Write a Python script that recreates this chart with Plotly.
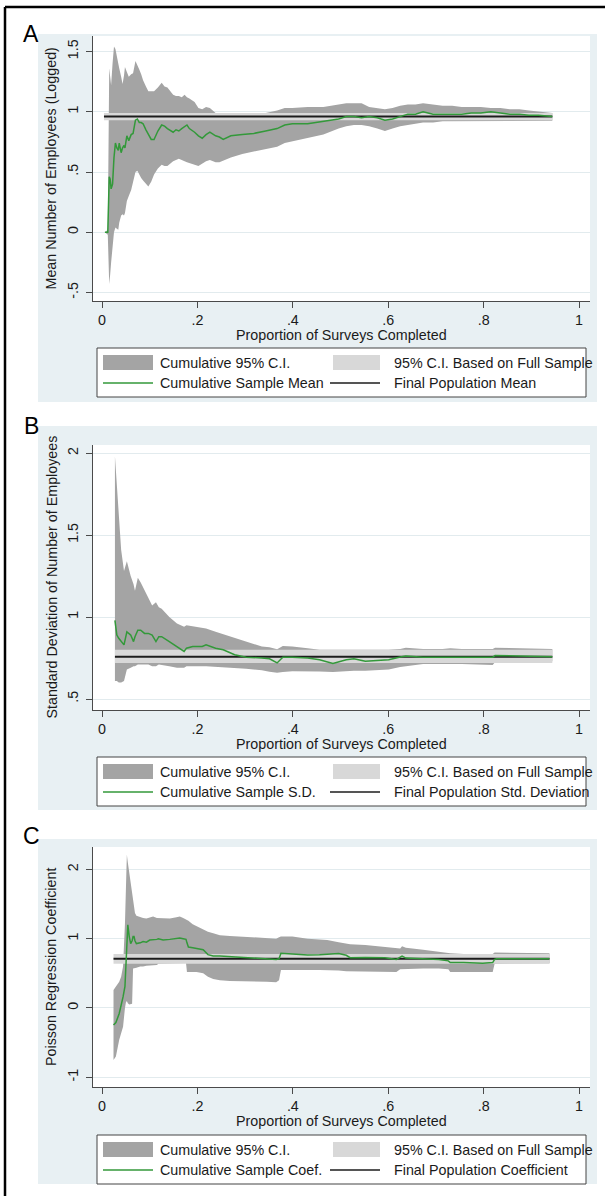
import plotly.graph_objects as go

W, H = 605, 1196

# ------------------------------------------------------------------ data
x_ticks = [0, 0.2, 0.4, 0.6, 0.8, 1]
x_tick_labels = ["0", ".2", ".4", ".6", ".8", "1"]
x_title = "Proportion of Surveys Completed"

# Panel A: mean number of employees (logged)
a_prop = [0.006, 0.012, 0.015, 0.017, 0.019, 0.022, 0.025, 0.028, 0.031, 0.034,
          0.036, 0.040, 0.043, 0.046, 0.048, 0.052, 0.056, 0.061, 0.065, 0.070,
          0.074, 0.078, 0.082, 0.086, 0.092, 0.097, 0.103, 0.109, 0.117, 0.125,
          0.131, 0.137, 0.149, 0.155, 0.161, 0.167, 0.173, 0.178, 0.183, 0.194,
          0.202, 0.210, 0.218, 0.226, 0.238, 0.246, 0.254, 0.270, 0.294, 0.318,
          0.343, 0.367, 0.383, 0.399, 0.431, 0.464, 0.496, 0.512, 0.528, 0.544,
          0.560, 0.577, 0.593, 0.609, 0.625, 0.641, 0.657, 0.673, 0.694, 0.714,
          0.734, 0.754, 0.774, 0.794, 0.815, 0.835, 0.855, 0.875, 0.895, 0.915,
          0.944]
a_upper = [0.0, 0.02, 1.36, 1.30, 1.22, 1.40, 1.54, 1.52, 1.47, 1.40,
           1.36, 1.29, 1.23, 1.30, 1.37, 1.33, 1.29, 1.31, 1.32, 1.42,
           1.39, 1.35, 1.31, 1.26, 1.21, 1.17, 1.17, 1.17, 1.20, 1.24,
           1.21, 1.20, 1.14, 1.13, 1.13, 1.12, 1.14, 1.12, 1.11, 1.08,
           1.03, 1.02, 1.04, 1.03, 0.99, 0.99, 0.99, 0.99, 0.99, 0.99,
           0.99, 1.01, 1.03, 1.03, 1.04, 1.04, 1.06, 1.07, 1.07, 1.07,
           1.04, 1.03, 1.02, 1.03, 1.05, 1.06, 1.06, 1.07, 1.06, 1.05,
           1.05, 1.04, 1.04, 1.04, 1.03, 1.03, 1.02, 1.02, 1.01, 1.00,
           0.99]
a_lower = [0.0, -0.02, -0.43, -0.35, -0.25, -0.10, 0.00, 0.04, 0.03, 0.02,
           0.08, 0.14, 0.15, 0.14, 0.16, 0.26, 0.30, 0.35, 0.40, 0.50,
           0.51, 0.48, 0.45, 0.43, 0.40, 0.38, 0.42, 0.48, 0.53, 0.56,
           0.55, 0.55, 0.59, 0.60, 0.61, 0.60, 0.59, 0.58, 0.57, 0.56,
           0.55, 0.57, 0.59, 0.60, 0.58, 0.58, 0.59, 0.62, 0.65, 0.67,
           0.69, 0.71, 0.74, 0.75, 0.78, 0.81, 0.86, 0.88, 0.89, 0.89,
           0.88, 0.86, 0.84, 0.86, 0.88, 0.89, 0.90, 0.91, 0.91, 0.92,
           0.92, 0.925, 0.925, 0.925, 0.925, 0.925, 0.925, 0.925, 0.925, 0.925,
           0.925]
a_mean = [0.0, 0.0, 0.46, 0.44, 0.36, 0.40, 0.62, 0.74, 0.70, 0.68,
          0.74, 0.66, 0.70, 0.72, 0.70, 0.80, 0.76, 0.81, 0.82, 0.93,
          0.94, 0.91, 0.91, 0.90, 0.85, 0.81, 0.77, 0.77, 0.84, 0.89,
          0.88, 0.86, 0.83, 0.85, 0.84, 0.86, 0.88, 0.89, 0.86, 0.83,
          0.80, 0.78, 0.81, 0.83, 0.80, 0.79, 0.77, 0.80, 0.81, 0.82,
          0.84, 0.86, 0.89, 0.90, 0.90, 0.92, 0.94, 0.96, 0.96, 0.95,
          0.96, 0.95, 0.93, 0.94, 0.96, 0.98, 0.98, 1.00, 0.98, 0.98,
          0.98, 0.98, 0.99, 0.99, 1.00, 0.99, 0.98, 0.98, 0.97, 0.97,
          0.96]
a_pop = 0.96
a_full_ci = [0.93, 0.99]
a_span = [0.004, 0.944]
a_yticks = [-0.5, 0, 0.5, 1, 1.5]
a_ytick_labels = ["-.5", "0", ".5", "1", "1.5"]
a_ytitle = "Mean Number of Employees (Logged)"
a_legend = ["Cumulative 95% C.I.", "95% C.I. Based on Full Sample",
            "Cumulative Sample Mean", "Final Population Mean"]

# Panel B: standard deviation of number of employees
b_prop = [0.027, 0.031, 0.035, 0.040, 0.046, 0.052, 0.060, 0.066, 0.069, 0.075,
          0.081, 0.089, 0.097, 0.105, 0.113, 0.119, 0.125, 0.141, 0.157, 0.172,
          0.177, 0.190, 0.210, 0.218, 0.238, 0.254, 0.278, 0.302, 0.335, 0.351,
          0.367, 0.379, 0.399, 0.431, 0.456, 0.484, 0.512, 0.528, 0.552, 0.577,
          0.601, 0.625, 0.637, 0.673, 0.714, 0.730, 0.754, 0.819, 0.824, 0.875,
          0.915, 0.944]
b_upper = [1.98, 1.80, 1.60, 1.41, 1.28, 1.34, 1.25, 1.20, 1.16, 1.24,
           1.21, 1.16, 1.12, 1.07, 1.09, 1.06, 1.05, 1.00, 0.96, 0.94,
           0.95, 0.945, 0.935, 0.93, 0.91, 0.895, 0.87, 0.85, 0.82, 0.815,
           0.803, 0.823, 0.82, 0.81, 0.80, 0.80, 0.80, 0.80, 0.80, 0.80,
           0.80, 0.805, 0.812, 0.805, 0.805, 0.81, 0.805, 0.805, 0.812, 0.81,
           0.808, 0.805]
b_lower = [0.61, 0.61, 0.60, 0.60, 0.61, 0.68, 0.69, 0.70, 0.70, 0.71,
           0.71, 0.71, 0.71, 0.70, 0.70, 0.71, 0.71, 0.70, 0.69, 0.69,
           0.70, 0.70, 0.70, 0.70, 0.70, 0.695, 0.69, 0.685, 0.675, 0.667,
           0.66, 0.665, 0.67, 0.67, 0.668, 0.665, 0.67, 0.672, 0.673, 0.675,
           0.68, 0.695, 0.70, 0.713, 0.713, 0.713, 0.713, 0.707, 0.725, 0.728,
           0.73, 0.73]
b_sd = [0.98, 0.89, 0.87, 0.85, 0.83, 0.91, 0.89, 0.85, 0.88, 0.92,
        0.92, 0.90, 0.90, 0.89, 0.85, 0.88, 0.88, 0.85, 0.82, 0.79,
        0.81, 0.82, 0.82, 0.83, 0.81, 0.80, 0.77, 0.755, 0.75, 0.745,
        0.72, 0.755, 0.755, 0.75, 0.74, 0.717, 0.74, 0.745, 0.73, 0.734,
        0.74, 0.756, 0.762, 0.755, 0.755, 0.757, 0.758, 0.755, 0.765, 0.762,
        0.76, 0.758]
b_pop = 0.758
b_full_ci = [0.72, 0.80]
b_span = [0.027, 0.944]
b_yticks = [0.5, 1, 1.5, 2]
b_ytick_labels = [".5", "1", "1.5", "2"]
b_ytitle = "Standard Deviation of Number of Employees"
b_legend = ["Cumulative 95% C.I.", "95% C.I. Based on Full Sample",
            "Cumulative Sample S.D.", "Final Population Std. Deviation"]

# Panel C: Poisson regression coefficient
c_prop = [0.024, 0.029, 0.036, 0.040, 0.044, 0.048, 0.050, 0.052, 0.054, 0.057,
          0.060, 0.063, 0.065, 0.067, 0.069, 0.072, 0.080, 0.086, 0.093, 0.100,
          0.107, 0.115, 0.118, 0.128, 0.142, 0.156, 0.163, 0.170, 0.176, 0.178,
          0.181, 0.190, 0.198, 0.212, 0.222, 0.233, 0.247, 0.268, 0.290, 0.303,
          0.330, 0.345, 0.365, 0.371, 0.375, 0.399, 0.431, 0.456, 0.472, 0.496,
          0.512, 0.520, 0.552, 0.593, 0.617, 0.625, 0.629, 0.637, 0.673, 0.706,
          0.726, 0.730, 0.758, 0.798, 0.819, 0.823, 0.827, 0.875, 0.910, 0.938]
c_upper = [0.26, 0.31, 0.38, 0.45, 0.60, 1.22, 1.75, 2.21, 2.10, 1.95,
           1.80, 1.60, 1.52, 1.40, 1.37, 1.33, 1.31, 1.30, 1.29, 1.31,
           1.32, 1.30, 1.30, 1.30, 1.29, 1.31, 1.32, 1.30, 1.28, 1.27,
           1.26, 1.21, 1.18, 1.13, 1.10, 1.08, 1.05, 1.04, 1.03, 1.02,
           1.005, 1.00, 1.00, 1.02, 1.03, 1.03, 1.00, 0.99, 0.98, 0.95,
           0.93, 0.92, 0.91, 0.885, 0.86, 0.86, 0.89, 0.87, 0.84, 0.81,
           0.79, 0.79, 0.78, 0.78, 0.78, 0.80, 0.80, 0.80, 0.80, 0.79]
c_lower = [-0.75, -0.70, -0.46, -0.38, -0.27, 0.00, 0.08, 0.10, 0.07, 0.05,
           0.05, 0.06, 0.57, 0.57, 0.58, 0.58, 0.60, 0.60, 0.61, 0.62,
           0.62, 0.62, 0.64, 0.65, 0.65, 0.65, 0.65, 0.65, 0.65, 0.52,
           0.52, 0.52, 0.52, 0.50, 0.45, 0.42, 0.40, 0.39, 0.38, 0.38,
           0.38, 0.38, 0.37, 0.40, 0.55, 0.55, 0.55, 0.55, 0.55, 0.54,
           0.53, 0.52, 0.52, 0.52, 0.52, 0.56, 0.57, 0.57, 0.57, 0.57,
           0.56, 0.52, 0.52, 0.52, 0.52, 0.64, 0.645, 0.645, 0.645, 0.645]
c_coef = [-0.245, -0.21, -0.08, 0.02, 0.16, 0.31, 0.70, 1.00, 1.20, 1.03,
          0.93, 0.97, 1.03, 1.03, 0.97, 0.93, 0.94, 0.96, 0.95, 0.98,
          0.98, 0.99, 1.00, 0.98, 0.99, 1.00, 1.01, 1.00, 0.99, 0.94,
          0.88, 0.87, 0.86, 0.84, 0.77, 0.75, 0.75, 0.74, 0.73, 0.72,
          0.71, 0.71, 0.70, 0.71, 0.79, 0.78, 0.765, 0.77, 0.78, 0.785,
          0.76, 0.725, 0.73, 0.726, 0.70, 0.74, 0.75, 0.72, 0.715, 0.70,
          0.68, 0.655, 0.655, 0.645, 0.655, 0.70, 0.71, 0.71, 0.71, 0.71]
c_pop = 0.71
c_full_ci = [0.64, 0.78]
c_span = [0.024, 0.938]
c_yticks = [-1, 0, 1, 2]
c_ytick_labels = ["-1", "0", "1", "2"]
c_ytitle = "Poisson Regression Coefficient"
c_legend = ["Cumulative 95% C.I.", "95% C.I. Based on Full Sample",
            "Cumulative Sample Coef.", "Final Population Coefficient"]

# ------------------------------------------------------------------ style
FONT = "Liberation Sans, Arial, Helvetica, sans-serif"
TXT = "#1a1a1a"
BLUE = "#e8f0f3"
DARK = "#a4a4a4"
LIGHT = "#d8d8d8"
GREEN = "#33993a"
AXIS = "#4a4a4a"
GRID = "#e2ebee"
FS = 14.3


def px(x):
    return x / W


def py(y):
    return 1 - y / H


panels = [
    dict(letter="A", prop=a_prop, lo=a_lower, hi=a_upper, est=a_mean, pop=a_pop,
         full=a_full_ci, span=a_span, yt=a_yticks, ytl=a_ytick_labels,
         ytitle=a_ytitle, legend=a_legend,
         top=36, bot=301, yrange=[-0.570, 1.628], bg=(34, 402), leg=348, ly=34),
    dict(letter="B", prop=b_prop, lo=b_lower, hi=b_upper, est=b_sd, pop=b_pop,
         full=b_full_ci, span=b_span, yt=b_yticks, ytl=b_ytick_labels,
         ytitle=b_ytitle, legend=b_legend,
         top=445, bot=710, yrange=[0.433, 2.049], bg=(426, 810), leg=757, ly=426),
    dict(letter="C", prop=c_prop, lo=c_lower, hi=c_upper, est=c_coef, pop=c_pop,
         full=c_full_ci, span=c_span, yt=c_yticks, ytl=c_ytick_labels,
         ytitle=c_ytitle, legend=c_legend,
         top=847, bot=1087, yrange=[-1.140, 2.323], bg=(839, 1184), leg=1135, ly=836),
]

X_LEFT, X_RIGHT = 93, 590
X_RANGE = [-0.019, 1.023]

fig = go.Figure()
shapes = []
annotations = []
layout_axes = {}

for i, pnl in enumerate(panels):
    n = "" if i == 0 else str(i + 1)
    xref, yref = "x" + n, "y" + n
    assert len(pnl["prop"]) == len(pnl["lo"]) == len(pnl["hi"]) == len(pnl["est"])

    # cumulative CI area
    fig.add_trace(go.Scatter(
        x=list(pnl["prop"]) + list(pnl["prop"])[::-1],
        y=list(pnl["hi"]) + list(pnl["lo"])[::-1],
        fill="toself", fillcolor=DARK, mode="lines", line=dict(width=0),
        hoverinfo="skip", showlegend=False, xaxis=xref, yaxis=yref))
    # full-sample CI band
    s0, s1 = pnl["span"]
    lo, hi = pnl["full"]
    fig.add_trace(go.Scatter(
        x=[s0, s1, s1, s0], y=[lo, lo, hi, hi],
        fill="toself", fillcolor=LIGHT, mode="lines", line=dict(width=0),
        hoverinfo="skip", showlegend=False, xaxis=xref, yaxis=yref))
    # final population value
    fig.add_trace(go.Scatter(
        x=[s0, s1], y=[pnl["pop"], pnl["pop"]], mode="lines",
        line=dict(color="#1c1c1c", width=2), showlegend=False,
        xaxis=xref, yaxis=yref))
    # cumulative estimate
    fig.add_trace(go.Scatter(
        x=pnl["prop"], y=pnl["est"], mode="lines",
        line=dict(color=GREEN, width=1.5), showlegend=False,
        xaxis=xref, yaxis=yref))

    layout_axes["xaxis" + n] = dict(
        domain=[px(X_LEFT), px(X_RIGHT)], range=X_RANGE, anchor=yref,
        tickvals=x_ticks, ticktext=x_tick_labels, ticks="outside", ticklen=6,
        tickcolor=AXIS, tickwidth=1, showline=True, linecolor=AXIS, linewidth=1,
        showgrid=False, zeroline=False, ticklabelstandoff=0,
        tickfont=dict(family=FONT, size=FS, color=TXT))
    layout_axes["yaxis" + n] = dict(
        domain=[py(pnl["bot"]), py(pnl["top"])], range=pnl["yrange"], anchor=xref,
        tickvals=pnl["yt"], ticktext=pnl["ytl"], tickangle=-90, ticks="outside",
        ticklen=6, tickcolor=AXIS, tickwidth=1, showline=True, linecolor=AXIS,
        linewidth=1, showgrid=True, gridcolor=GRID, gridwidth=1, zeroline=False,
        ticklabelstandoff=2, tickfont=dict(family=FONT, size=FS, color=TXT))

    # graph region (light blue) and white plot region
    b0, b1 = pnl["bg"]
    shapes.append(dict(type="rect", xref="paper", yref="paper", layer="below",
                       x0=px(38), x1=px(597), y0=py(b1), y1=py(b0),
                       fillcolor=BLUE, line=dict(width=0)))
    shapes.append(dict(type="rect", xref="paper", yref="paper", layer="below",
                       x0=px(X_LEFT), x1=px(X_RIGHT), y0=py(pnl["bot"]), y1=py(pnl["top"]),
                       fillcolor="white", line=dict(width=0)))

    # legend box
    lt = pnl["leg"]
    shapes.append(dict(type="rect", xref="paper", yref="paper", layer="below",
                       x0=px(97), x1=px(586), y0=py(lt + 49), y1=py(lt),
                       fillcolor="white", line=dict(color="#444444", width=1)))
    shapes.append(dict(type="rect", xref="paper", yref="paper",
                       x0=px(103), x1=px(153), y0=py(lt + 22), y1=py(lt + 7),
                       fillcolor=DARK, line=dict(width=0)))
    shapes.append(dict(type="rect", xref="paper", yref="paper",
                       x0=px(333), x1=px(380), y0=py(lt + 22), y1=py(lt + 7),
                       fillcolor=LIGHT, line=dict(width=0)))
    shapes.append(dict(type="line", xref="paper", yref="paper",
                       x0=px(103), x1=px(153), y0=py(lt + 35), y1=py(lt + 35),
                       line=dict(color=GREEN, width=1.5)))
    shapes.append(dict(type="line", xref="paper", yref="paper",
                       x0=px(330), x1=px(380), y0=py(lt + 35), y1=py(lt + 35),
                       line=dict(color="#1c1c1c", width=1.5)))
    lab = pnl["legend"]
    for txt, xx, yy in [(lab[0], 158, lt + 15), (lab[1], 392, lt + 15),
                        (lab[2], 158, lt + 35), (lab[3], 392, lt + 35)]:
        annotations.append(dict(text=txt, xref="paper", yref="paper",
                                x=px(xx), y=py(yy), xanchor="left", yanchor="middle",
                                showarrow=False, font=dict(family=FONT, size=FS, color=TXT)))

    # axis titles and panel letter
    annotations.append(dict(text=pnl["ytitle"], xref="paper", yref="paper",
                            x=px(51), y=py((pnl["top"] + pnl["bot"]) / 2), textangle=-90,
                            xanchor="center", yanchor="middle", showarrow=False,
                            font=dict(family=FONT, size=FS, color=TXT)))
    annotations.append(dict(text=x_title, xref="paper", yref="paper",
                            x=px((X_LEFT + X_RIGHT) / 2), y=py(pnl["bot"] + 34),
                            xanchor="center", yanchor="middle", showarrow=False,
                            font=dict(family=FONT, size=FS, color=TXT)))
    annotations.append(dict(text=pnl["letter"], xref="paper", yref="paper",
                            x=px(31), y=py(pnl["ly"]), xanchor="center", yanchor="middle",
                            showarrow=False, font=dict(family=FONT, size=23, color="#000000")))

# outer frame (left and top edges)
shapes.append(dict(type="line", xref="paper", yref="paper", x0=px(5), x1=1.0,
                   y0=py(7), y1=py(7), line=dict(color="black", width=2.5)))
shapes.append(dict(type="line", xref="paper", yref="paper", x0=px(5), x1=px(5),
                   y0=0.0, y1=py(7), line=dict(color="black", width=2.5)))

fig.update_layout(
    width=W, height=H, margin=dict(l=0, r=0, t=0, b=0),
    paper_bgcolor="white", plot_bgcolor="white", showlegend=False,
    shapes=shapes, annotations=annotations, **layout_axes)

fig.write_html("out.html")
